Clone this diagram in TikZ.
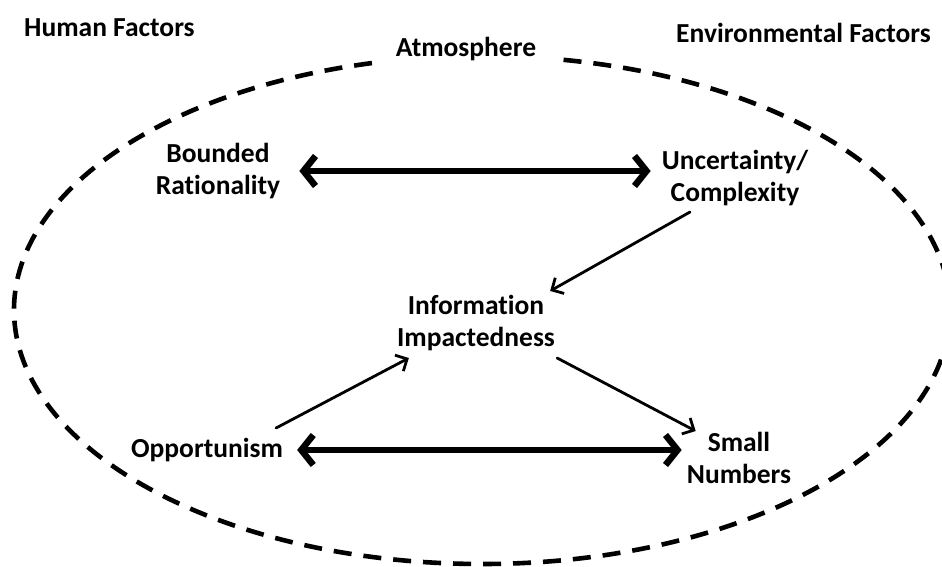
\documentclass[tikz,border=0pt]{standalone}
\usepackage{fontspec}
\setmainfont[Ligatures=NoCommon]{Carlito}
\usetikzlibrary{arrows.meta}

\begin{document}
\begin{tikzpicture}[x=1pt, y=-1pt,
  label text/.style={font=\bfseries\fontsize{27.5}{32}\selectfont, align=center, inner sep=0pt},
  boundary/.style={line width=4.6pt, dash pattern=on 18pt off 12pt},
  both ways/.style={line width=6.5pt, line cap=round, line join=round,
    {Straight Barb[length=12pt, width=30pt]}-{Straight Barb[length=12pt, width=30pt]}},
  one way/.style={line width=2.8pt, line cap=round, line join=round,
    -{Straight Barb[length=9pt, width=18pt]}}]

\useasboundingbox (0,0) rectangle (942,567);

% Atmosphere boundary
\draw[boundary] (482,310) ellipse [x radius=468pt, y radius=254pt];

% Headings
\node[label text, anchor=base west] (human) at (24,37) {Human Factors};
\node[label text, anchor=base west] (env) at (676,43) {Environmental Factors};
\node[label text, anchor=base, fill=white, inner xsep=16pt, inner ysep=5pt] (atmos) at (466,57) {Atmosphere};

% Factors
\node[label text] (bounded) at (218,171) {Bounded\\Rationality};
\node[label text] (uncert) at (735,178) {Uncertainty/\\Complexity};
\node[label text] (info) at (476,323) {Information\\Impactedness};
\node[label text] (oppo) at (207,450) {Opportunism};
\node[label text] (small) at (739,458) {Small\\Numbers};

% Two-way links
\draw[both ways] ([xshift=19pt]bounded.east) -- ([xshift=-11pt]uncert.west |- bounded.east);
\draw[both ways] ([xshift=14pt]oppo.east) -- ([xshift=-5pt]small.west |- oppo.east);

% One-way links
\draw[one way] ([shift={(-45pt,-6pt)}]uncert.south) -- ([shift={(-5pt,4pt)}]info.north east);
\draw[one way] ([shift={(-7pt,10pt)}]oppo.north east) -- ([shift={(12pt,-7pt)}]info.south west);
\draw[one way] ([shift={(2pt,-7pt)}]info.south east) -- ([shift={(9pt,1pt)}]small.north west);

\end{tikzpicture}
\end{document}
